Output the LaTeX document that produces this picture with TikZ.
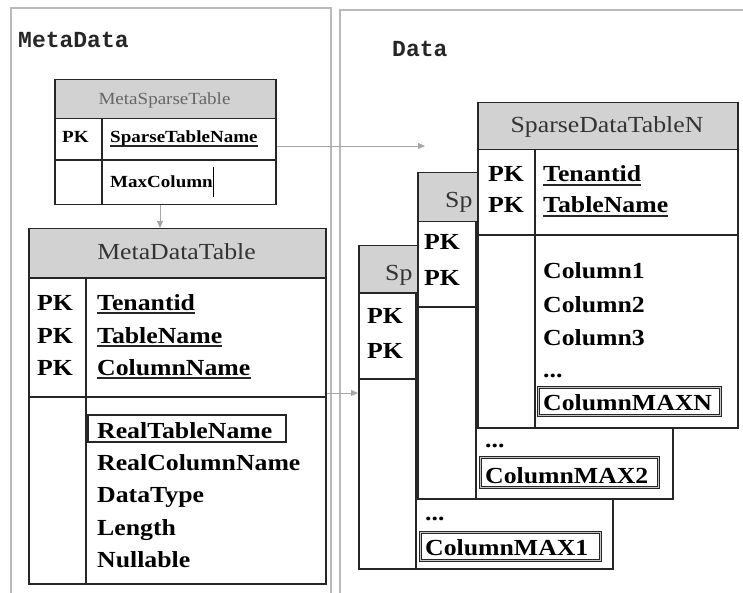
\documentclass[tikz,border=0pt]{standalone}
\usepackage{fontspec}
\setmainfont{Liberation Serif}[FakeStretch=1.12]
\newfontfamily\labfont{Liberation Mono}
\usetikzlibrary{arrows.meta}

\tikzset{
  panel/.style={draw=gray!55, line width=1.6pt},
  tbl/.style={draw=black!85, line width=1.5pt, fill=white, inner sep=0pt, anchor=north west},
  hdrbox/.style={tbl, fill=gray!35},
  rule/.style={draw=black!85, line width=1.5pt},
  fld/.style={inner sep=0pt, anchor=base west, text=black, font=\bfseries\fontsize{23}{23}\selectfont},
  sfld/.style={fld, font=\bfseries\fontsize{17}{17}\selectfont},
  hdr/.style={inner sep=0pt, anchor=base, text=black!80, font=\fontsize{23}{23}\selectfont},
  shdr/.style={hdr, text=black!60, font=\fontsize{17}{17}\selectfont},
  lab/.style={inner sep=0pt, anchor=base west, text=black!85, font=\labfont\bfseries\fontsize{23}{23}\selectfont},
  ul/.style={append after command={([yshift=-3pt]\tikzlastnode.base west) edge[draw=black!85, line width=1.1pt] ([yshift=-3pt]\tikzlastnode.base east)}},
  onebox/.style={draw=black!85, line width=1.5pt},
  maxbox/.style={draw=black!85, line width=1pt, double=gray!45, double distance=1pt},
  link/.style={draw=gray!70, line width=0.9pt, -{Triangle[length=7pt,width=6pt]}}
}

\begin{document}
\begin{tikzpicture}[x=1pt, y=-1pt]
\useasboundingbox (0,0) rectangle (743,593);

% the two panels, open at the bottom
\draw[panel] (11,593) -- (11,8) -- (331,8) -- (331,593);
\draw[panel] (340,593) -- (340,10) -- (743,10);
\node[lab] (lmeta) at (18,48) {MetaData};
\node[lab] (ldata) at (392,57) {Data};

% ---------- MetaSparseTable ----------
\node[tbl, minimum width=221pt, minimum height=125pt] (mst) at (54,79) {};
\node[hdrbox, minimum width=221pt, minimum height=39pt] (msth) at (54,79) {};
\node[shdr] (msttitle) at (164.5,105) {MetaSparseTable};
\draw[rule] (54,160) -- (275,160);
\draw[rule] (102,118) -- (102,204);
\node[sfld] (mstpk) at (62,143) {PK};
\node[sfld, ul] (mstname) at (110,143) {SparseTableName};
\node[sfld] (mstmax) at (110,188) {MaxColumn};
\draw[black, line width=1.6pt] (213.5,167) -- (213.5,197);

% ---------- MetaDataTable ----------
\node[tbl, minimum width=297pt, minimum height=355pt] (mdt) at (28,228) {};
\node[hdrbox, minimum width=297pt, minimum height=49pt] (mdth) at (28,228) {};
\node[hdr] (mdttitle) at (176.5,260) {MetaDataTable};
\draw[rule] (28,397) -- (325,397);
\draw[rule] (86,277) -- (86,583);
\node[fld] (mdtpk1) at (37,310) {PK};
\node[fld] (mdtpk2) at (37,343) {PK};
\node[fld] (mdtpk3) at (37,375) {PK};
\node[fld, ul] (mdtten) at (97,310) {Tenantid};
\node[fld, ul] (mdttab) at (97,343) {TableName};
\node[fld, ul] (mdtcol) at (97,375) {ColumnName};
\draw[onebox] (88,415) rectangle (286,442);
\node[fld] (mdtrt) at (97,438) {RealTableName};
\node[fld] (mdtrc) at (97,470) {RealColumnName};
\node[fld] (mdtdt) at (97,502) {DataType};
\node[fld] (mdtlen) at (97,535) {Length};
\node[fld] (mdtnul) at (97,567) {Nullable};

% ---------- first sparse data table (back) ----------
\node[tbl, minimum width=254pt, minimum height=323pt] (sd1) at (358,245) {};
\node[hdrbox, minimum width=254pt, minimum height=47pt] (sd1h) at (358,245) {};
\node[hdr, anchor=base west] (sd1title) at (385,280) {Sp};
\draw[rule] (358,379) -- (612,379);
\draw[rule] (416,292) -- (416,568);
\node[fld] (sd1pk1) at (367,323) {PK};
\node[fld] (sd1pk2) at (367,358) {PK};
\node[fld] (sd1dots) at (425,520) {...};
\draw[maxbox] (420,532) rectangle (600,560);
\node[fld] (sd1max) at (425,555) {ColumnMAX1};

% ---------- second sparse data table ----------
\node[tbl, minimum width=255pt, minimum height=326pt] (sd2) at (417,172) {};
\node[hdrbox, minimum width=255pt, minimum height=49pt] (sd2h) at (417,172) {};
\node[hdr, anchor=base west] (sd2title) at (445,208) {Sp};
\draw[rule] (417,307) -- (672,307);
\draw[rule] (476,221) -- (476,498);
\node[fld] (sd2pk1) at (424,250) {PK};
\node[fld] (sd2pk2) at (424,285) {PK};
\node[fld] (sd2dots) at (485,447) {...};
\draw[maxbox] (480,457) rectangle (658,487);
\node[fld] (sd2max) at (485,483) {ColumnMAX2};

% ---------- SparseDataTableN (front) ----------
\node[tbl, minimum width=260pt, minimum height=325pt] (sdn) at (477,102) {};
\node[hdrbox, minimum width=260pt, minimum height=47pt] (sdnh) at (477,102) {};
\node[hdr] (sdntitle) at (607,133) {SparseDataTableN};
\draw[rule] (477,235) -- (737,235);
\draw[rule] (535,149) -- (535,427);
\node[fld] (sdnpk1) at (488,182) {PK};
\node[fld] (sdnpk2) at (488,213) {PK};
\node[fld, ul] (sdnten) at (543,182) {Tenantid};
\node[fld, ul] (sdntab) at (543,213) {TableName};
\node[fld] (sdnc1) at (543,279) {Column1};
\node[fld] (sdnc2) at (543,312) {Column2};
\node[fld] (sdnc3) at (543,345) {Column3};
\node[fld] (sdndots) at (543,377) {...};
\draw[maxbox] (538,387) rectangle (720,415);
\node[fld] (sdnmax) at (543,410) {ColumnMAXN};

% ---------- links ----------
\coordinate (downx) at (160,0);
\draw[link] (downx |- mst.south) -- (downx |- mdt.north);
\coordinate (rowy) at (0,146);
\coordinate (datain) at (425,146);
\draw[link] (rowy -| mst.east) -- (datain);
\coordinate (secy) at (0,393);
\draw[link] (secy -| mdt.east) -- (secy -| sd1.west);

\end{tikzpicture}
\end{document}
